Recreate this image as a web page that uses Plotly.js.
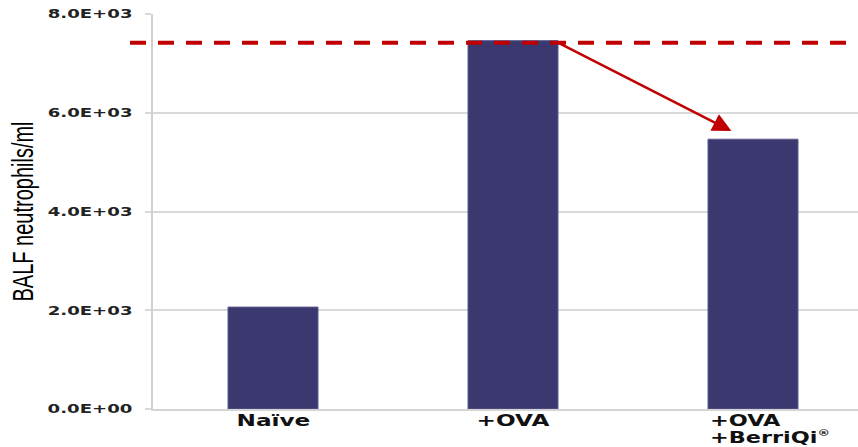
<!DOCTYPE html>
<html><head><meta charset="utf-8">
<script src="https://cdn.plot.ly/plotly-3.0.1.min.js"></script>
<style>html,body{margin:0;padding:0;background:#fff;overflow:hidden}</style>
</head><body><div id="chart" style="width:858px;height:447px"></div>
<script>
// ---- data ----
const categories = ['Naïve', '+OVA', '+OVA +BerriQi'];
const categoryLabels = ['Naïve', '+OVA', '+OVA<br>+BerriQi<sup><span style="font-size:9px">®</span></sup>'];
const neutrophils = [2.064e3, 7.46e3, 5.464e3];
const yTickVals = [0, 2000, 4000, 6000, 8000];
const yTickText = ['0.0E+00', '2.0E+03', '4.0E+03', '6.0E+03', '8.0E+03'];
const yTitle = 'BALF neutrophils/ml';
const referenceLevel = [7.42e3];
const arrowTipValue = [5.63e3];

// ---- styling ----
const BAR_W = 0.375;
const STRETCH = 1.45;
const barColor = '#3b386f';
const red = '#c00000';

const trace = {
  type: 'bar', x: categories, y: neutrophils, width: BAR_W,
  marker: {color: barColor, line: {color: '#5b5a8e', width: 1}},
  hoverinfo: 'skip'
};

const annotations = [];
const stretchSpec = [];   // [anchor, sx, sy] per annotation
categoryLabels.forEach((lab, i) => {
  const lines = lab.split('<br>');
  lines.forEach((ln, j) => {
    const multi = lines.length > 1;
    annotations.push({
      xref: 'x', yref: 'paper', x: categories[i], y: 0,
      xanchor: multi ? 'left' : 'center', yanchor: 'top',
      xshift: multi ? -44 : 0, yshift: -1 - j * 17, borderpad: 0,
      text: ln, showarrow: false,
      font: {family: 'DejaVu Sans', size: 16, color: '#111', weight: 'bold'}
    });
    stretchSpec.push([multi ? 'left' : 'center', multi ? 1.4 : STRETCH, 1]);
  });
});
// y-axis title (rotated)
annotations.push({
  xref: 'paper', yref: 'paper', x: -(153 - 22) / 705, y: 0.5,
  xanchor: 'center', yanchor: 'middle', textangle: -90,
  text: yTitle, showarrow: false,
  font: {family: 'Liberation Sans, Arial, sans-serif', size: 20, color: '#000'}
});
stretchSpec.push(['center', 1, 1.5]);
// red arrow from the +OVA level down to the BerriQi bar
annotations.push({
  xref: 'x', yref: 'y', axref: 'x', ayref: 'y',
  x: 2 - 0.09, y: arrowTipValue[0],
  ax: 1 + BAR_W / 2, ay: referenceLevel[0],
  text: '', showarrow: true, arrowhead: 2, arrowsize: 1.5, arrowwidth: 2.5,
  arrowcolor: red, standoff: 0, startstandoff: 0
});
stretchSpec.push(null);

const layout = {
  width: 858, height: 447,
  margin: {l: 153, r: 0, t: 14, b: 38},
  paper_bgcolor: '#fff', plot_bgcolor: '#fff',
  showlegend: false, bargap: 0,
  xaxis: {
    type: 'category', range: [-0.5, 2.4375], showticklabels: false,
    showgrid: false, zeroline: false, ticks: '',
    showline: true, linecolor: '#d4d4d4', linewidth: 2, fixedrange: true
  },
  yaxis: {
    range: [0, 8000], tickvals: yTickVals, ticktext: yTickText,
    showgrid: true, gridcolor: '#d9d9d9', gridwidth: 2, zeroline: false,
    showline: true, linecolor: '#d0d0d0', linewidth: 2,
    ticks: 'outside', ticklen: 6, tickwidth: 2, tickcolor: '#d9d9d9',
    ticklabelstandoff: 10,
    tickfont: {family: 'DejaVu Sans', size: 12.5, color: '#222', weight: 'bold'}
  },
  shapes: [{
    type: 'line', xref: 'paper', yref: 'y',
    x0: -0.0326, x1: 0.983, y0: referenceLevel[0], y1: referenceLevel[0],
    line: {color: red, width: 4, dash: '16px,12px'}
  }],
  annotations: annotations
};

Plotly.newPlot('chart', [trace], layout, {staticPlot: true, displayModeBar: false}).then(gd => {
  const stretch = (el, anchor, sx, sy) => {
    const bb = el.getBBox();
    const a = anchor === 'end' ? bb.x + bb.width : anchor === 'left' ? bb.x : bb.x + bb.width / 2;
    const c = bb.y + bb.height / 2;
    const t = el.getAttribute('transform') || '';
    el.setAttribute('transform', `${t} translate(${a},${c}) scale(${sx},${sy}) translate(${-a},${-c})`);
  };
  gd.querySelectorAll('.ytick text').forEach(el => stretch(el, 'end', STRETCH, 1));
  gd.querySelectorAll('g.annotation').forEach(g => {
    const k = +g.getAttribute('data-index');
    const el = g.querySelector('text');
    const s = stretchSpec[k];
    if (el && s) stretch(el, s[0], s[1], s[2]);
  });
});
</script>
</body></html>
